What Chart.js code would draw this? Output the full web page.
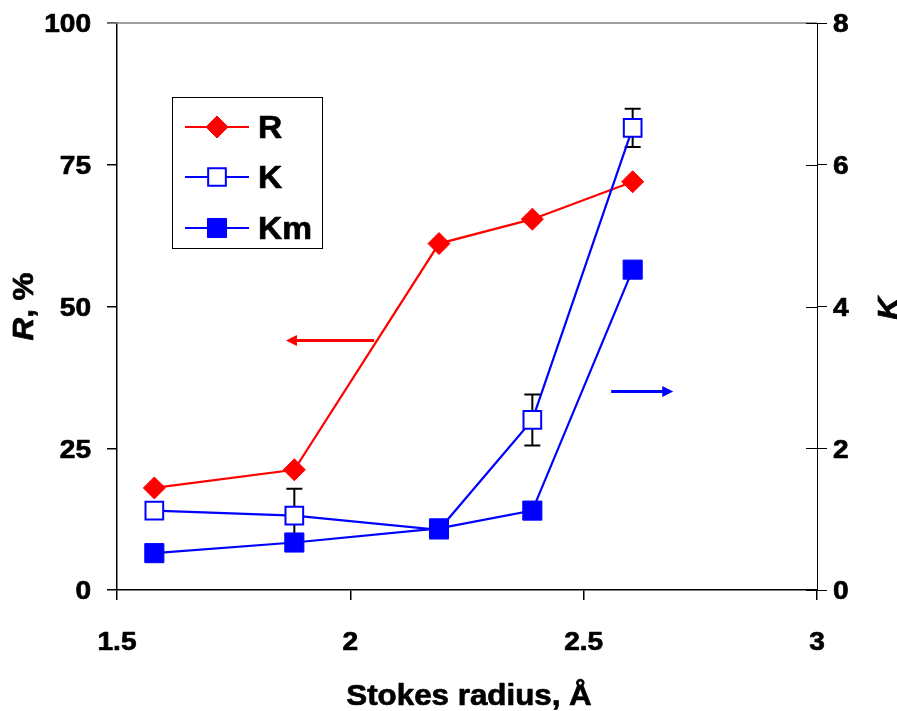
<!DOCTYPE html>
<html>
<head>
<meta charset="utf-8">
<script src="https://cdn.jsdelivr.net/npm/chart.js@4.4.0/dist/chart.umd.min.js"></script>
<style>
  html, body { margin: 0; padding: 0; background: #fff; overflow: hidden; }
  canvas { display: block; }
</style>
</head>
<body>
<canvas id="chart" width="897" height="711"></canvas>
<script>
// Stokes radius of the solutes (x) and the measured quantities
const stokesRadius = [1.58, 1.88, 2.19, 2.39, 2.605];
const rejection = [18.0, 21.2, 61.1, 65.4, 72.0];     // R, % (left axis)
const kValues = [1.12, 1.05, 0.85, 2.40, 6.52];       // K (right axis)
const kErrors = [0, 0.38, 0, 0.36, 0.27];
const kmValues = [0.52, 0.67, 0.87, 1.12, 4.52];      // Km (right axis)

const xTicks = [1.5, 2, 2.5, 3];
const rTicks = [0, 25, 50, 75, 100];
const kTicks = [0, 2, 4, 6, 8];

// arrows telling which axis each group of curves belongs to
const rArrow = { from: [2.051, 44.0], to: [1.862, 44.0] };
const kArrow = { from: [2.559, 2.80], to: [2.692, 2.80] };

const RED = '#ff0000';
const BLUE = '#0000ff';
const FONT = '"Liberation Sans", Arial, sans-serif';
const STRETCH = 1.08;

const pts = (ys) => stokesRadius.map((x, i) => ({ x, y: ys[i] }));

// heavy, slightly widened text, like the original Excel output
function wideText(ctx, parts, x, y, align, rotation) {
  ctx.save();
  ctx.translate(x, y);
  if (rotation) ctx.rotate(rotation);
  let total = 0;
  parts.forEach(p => { ctx.font = p.font; total += ctx.measureText(p.text).width; });
  let cx = align === 'center' ? -total * STRETCH / 2 : align === 'right' ? -total * STRETCH : 0;
  ctx.scale(STRETCH, 1);
  cx /= STRETCH;
  ctx.fillStyle = '#000';
  ctx.strokeStyle = '#000';
  ctx.lineWidth = 0.7;
  ctx.lineJoin = 'round';
  ctx.textAlign = 'left';
  ctx.textBaseline = 'alphabetic';
  parts.forEach(p => {
    ctx.font = p.font;
    ctx.fillText(p.text, cx, 0);
    ctx.strokeText(p.text, cx, 0);
    cx += ctx.measureText(p.text).width;
  });
  ctx.restore();
}

function arrow(ctx, x0, y0, x1, y1, color) {
  const dir = Math.sign(x1 - x0);
  ctx.save();
  ctx.strokeStyle = color;
  ctx.fillStyle = color;
  ctx.lineWidth = 3;
  ctx.beginPath();
  ctx.moveTo(x0, y0);
  ctx.lineTo(x1 - dir * 8, y1);
  ctx.stroke();
  ctx.beginPath();
  ctx.moveTo(x1, y1);
  ctx.lineTo(x1 - dir * 11, y1 - 5.5);
  ctx.lineTo(x1 - dir * 11, y1 + 5.5);
  ctx.closePath();
  ctx.fill();
  ctx.restore();
}

const errorBars = {
  id: 'errorBars',
  beforeDatasetsDraw(chart) {
    const { ctx, scales: { x, y2 } } = chart;
    ctx.save();
    ctx.strokeStyle = '#000';
    ctx.lineWidth = 2;
    kValues.forEach((k, i) => {
      const e = kErrors[i];
      if (!e) return;
      const px = x.getPixelForValue(stokesRadius[i]);
      const top = y2.getPixelForValue(k + e);
      const bot = y2.getPixelForValue(k - e);
      ctx.beginPath();
      ctx.moveTo(px, top); ctx.lineTo(px, bot);
      ctx.moveTo(px - 8, top); ctx.lineTo(px + 8, top);
      ctx.moveTo(px - 8, bot); ctx.lineTo(px + 8, bot);
      ctx.stroke();
    });
    ctx.restore();
  }
};

const decorations = {
  id: 'decorations',
  beforeDatasetsDraw(chart) {
    const { ctx, chartArea: a, scales: { y2 } } = chart;
    ctx.save();
    // plot area top border
    ctx.strokeStyle = '#808080';
    ctx.lineWidth = 1.5;
    ctx.beginPath();
    ctx.moveTo(a.left - 10, a.top);
    ctx.lineTo(a.right, a.top);
    ctx.stroke();
    // right axis ticks cross the axis line
    ctx.strokeStyle = '#000';
    ctx.lineWidth = 1;
    y2.ticks.forEach(t => {
      const py = Math.round(y2.getPixelForValue(t.value)) + 0.5;
      ctx.beginPath();
      ctx.moveTo(a.right - 11, py);
      ctx.lineTo(a.right, py);
      ctx.stroke();
    });
    ctx.restore();
  },
  afterDraw(chart) {
    const { ctx, chartArea: a, scales: { x, y, y2 } } = chart;
    const tickFont = 'bold 26px ' + FONT;
    x.ticks.forEach(t => {
      wideText(ctx, [{ text: String(t.value), font: tickFont }], x.getPixelForValue(t.value), 650, 'center');
    });
    y.ticks.forEach(t => {
      wideText(ctx, [{ text: String(t.value), font: tickFont }], 91, y.getPixelForValue(t.value) + 9.3, 'right');
    });
    y2.ticks.forEach(t => {
      wideText(ctx, [{ text: String(t.value), font: tickFont }], 833, y2.getPixelForValue(t.value) + 9.3, 'left');
    });

    // axis titles
    const midY = (a.top + a.bottom) / 2;
    wideText(ctx, [{ text: 'Stokes radius, Å', font: 'bold 29px ' + FONT }], 469, 705, 'center');
    wideText(ctx, [
      { text: 'R', font: 'italic bold 29px ' + FONT },
      { text: ', %', font: 'bold 29px ' + FONT }
    ], 33, midY, 'center', -Math.PI / 2);
    wideText(ctx, [{ text: 'K', font: 'italic bold 29px ' + FONT }], 898, midY + 2, 'center', -Math.PI / 2);

    // arrows
    arrow(ctx, x.getPixelForValue(rArrow.from[0]), y.getPixelForValue(rArrow.from[1]),
      x.getPixelForValue(rArrow.to[0]), y.getPixelForValue(rArrow.to[1]), RED);
    arrow(ctx, x.getPixelForValue(kArrow.from[0]), y2.getPixelForValue(kArrow.from[1]),
      x.getPixelForValue(kArrow.to[0]), y2.getPixelForValue(kArrow.to[1]), BLUE);

    // legend box
    ctx.save();
    ctx.fillStyle = '#fff';
    ctx.fillRect(172.5, 97.5, 150, 151);
    ctx.strokeStyle = '#000';
    ctx.lineWidth = 1;
    ctx.strokeRect(172.5, 97.5, 150, 151);
    const rows = [127, 177, 228];
    chart.data.datasets.forEach((ds, i) => {
      const ry = rows[i];
      ctx.strokeStyle = ds.borderColor;
      ctx.lineWidth = ds.borderWidth;
      ctx.beginPath();
      ctx.moveTo(185, ry);
      ctx.lineTo(249, ry);
      ctx.stroke();
      ctx.fillStyle = ds.pointBackgroundColor;
      ctx.strokeStyle = ds.pointBorderColor;
      ctx.lineWidth = ds.pointBorderWidth;
      Chart.helpers.drawPoint(ctx, {
        pointStyle: ds.pointStyle, radius: ds.pointRadius, rotation: 0, borderWidth: ds.pointBorderWidth
      }, 217, ry);
      wideText(ctx, [{ text: ds.label, font: 'bold 31px ' + FONT }], 258, ry + 11, 'left');
    });
    ctx.restore();
  }
};

const axisBase = (extra) => Object.assign({
  type: 'linear',
  grid: { drawOnChartArea: false, drawTicks: true, tickLength: 10, color: '#000', lineWidth: 1.5 },
  border: { display: true, color: '#000', width: 1.5 },
  ticks: { display: false }
}, extra);

new Chart(document.getElementById('chart'), {
  type: 'line',
  data: {
    datasets: [
      {
        label: 'R', data: pts(rejection), yAxisID: 'y', order: 2,
        borderColor: RED, borderWidth: 2.2,
        pointStyle: 'rectRot', pointRadius: 11,
        pointBackgroundColor: RED, pointBorderColor: RED, pointBorderWidth: 1
      },
      {
        label: 'K', data: pts(kValues), yAxisID: 'y2', order: 1,
        borderColor: BLUE, borderWidth: 2.2,
        pointStyle: 'rect', pointRadius: 12.5,
        pointBackgroundColor: '#fff', pointBorderColor: BLUE, pointBorderWidth: 2
      },
      {
        label: 'Km', data: pts(kmValues), yAxisID: 'y2', order: 0,
        borderColor: BLUE, borderWidth: 2.2,
        pointStyle: 'rect', pointRadius: 13.5,
        pointBackgroundColor: BLUE, pointBorderColor: BLUE, pointBorderWidth: 1
      }
    ]
  },
  options: {
    responsive: false,
    animation: false,
    events: [],
    layout: { padding: { top: 23, left: 0, right: 0, bottom: 0 } },
    elements: { line: { tension: 0 } },
    plugins: { legend: { display: false }, tooltip: { enabled: false } },
    scales: {
      x: axisBase({
        position: 'bottom', min: 1.5, max: 3,
        afterBuildTicks: (s) => { s.ticks = xTicks.map(value => ({ value })); },
        afterFit: (s) => { s.height = 121; }
      }),
      y: axisBase({
        position: 'left', min: 0, max: 100,
        afterBuildTicks: (s) => { s.ticks = rTicks.map(value => ({ value })); },
        afterFit: (s) => { s.width = 117; }
      }),
      y2: axisBase({
        position: 'right', min: 0, max: 8,
        grid: { drawOnChartArea: false, drawTicks: true, tickLength: 10, color: '#000', lineWidth: 1 },
        border: { display: true, color: '#000', width: 1 },
        afterBuildTicks: (s) => { s.ticks = kTicks.map(value => ({ value })); },
        afterFit: (s) => { s.width = 80; }
      })
    }
  },
  plugins: [decorations, errorBars]
});
</script>
</body>
</html>
